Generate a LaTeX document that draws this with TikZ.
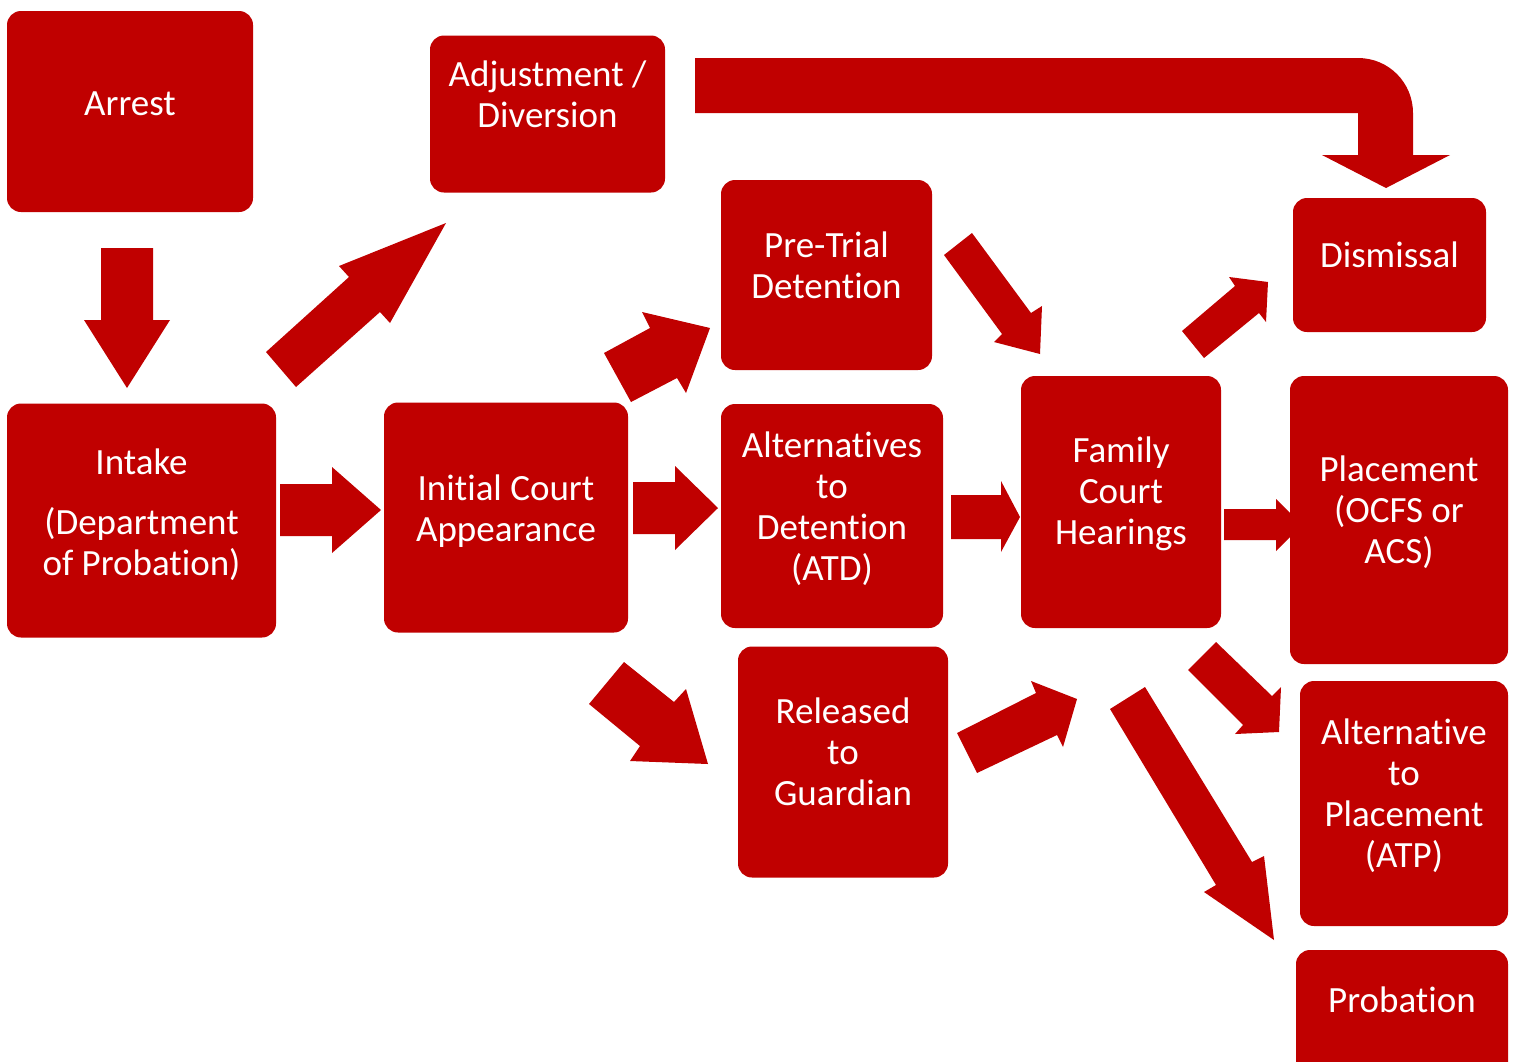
\documentclass[tikz,border=0pt]{standalone}
\usepackage{fontspec}
\setmainfont{Carlito}[Ligatures=NoCommon]
\definecolor{cred}{RGB}{192,0,0}
\begin{document}
\begin{tikzpicture}[x=1pt,y=-1pt,
  box/.style={rectangle, rounded corners=14pt, fill=cred, draw=none, inner sep=0pt},
  lbl/.style={anchor=base, text=white, inner sep=0pt, font=\fontsize{37}{41}\selectfont},
  barrow/.style={fill=cred, draw=none}]
\fill[white] (0,0) rectangle (1515,1061);
\useasboundingbox (0,0) rectangle (1515,1061);
\clip (0,0) rectangle (1515,1061);

% block arrows (drawn first so boxes cover hidden tips)
% arrest -> intake
\fill[barrow] (101,248) -- (153,248) -- (153,320) -- (170,320) -- (127,388) -- (84,320) -- (101,320) -- cycle;
% intake -> adjustment
\fill[barrow] (266,352) -- (349,277) -- (339,266) -- (446,223) -- (390,323) -- (380,312) -- (296,387) -- cycle;
% intake -> initial
\fill[barrow] (280,484) -- (332,484) -- (332,467) -- (381,510) -- (332,553) -- (332,536) -- (280,536) -- cycle;
% adjustment -> dismissal (curved)
\fill[barrow] (695,58) -- (1358,58) .. controls (1389,58) and (1413,83) .. (1413,113)
  -- (1413,155) -- (1450,155) -- (1386,188) -- (1322,155) -- (1358,155) -- (1358,113) -- (695,113) -- cycle;
% initial -> pretrial
\fill[barrow] (604,353) -- (650,328) -- (642,312) -- (710,328) -- (686,393) -- (677,378) -- (631,402) -- cycle;
% initial -> atd
\fill[barrow] (633,482) -- (675,482) -- (675,466) -- (718,508) -- (675,550) -- (675,534) -- (633,534) -- cycle;
% initial -> released
\fill[barrow] (589,704) -- (624,662) -- (674,702) -- (686,689) -- (708,764) -- (630,761) -- (640,746) -- cycle;
% pretrial -> family
\fill[barrow] (944,255) -- (972,233) -- (1031,313) -- (1042,306) -- (1040,354) -- (994,342) -- (1002,334) -- cycle;
% atd -> family
\fill[barrow] (951,495) -- (1001,495) -- (1001,481) -- (1020,517) -- (1001,552) -- (1001,539) -- (951,539) -- cycle;
% released -> family
\fill[barrow] (957,733) -- (1036,693) -- (1031,681) -- (1077,699) -- (1063,747) -- (1057,735) -- (977,773) -- cycle;
% family -> dismissal
\fill[barrow] (1182,331) -- (1235,286) -- (1229,277) -- (1268,282) -- (1266,322) -- (1259,313) -- (1204,358) -- cycle;
% family -> placement (tip hidden under box)
\fill[barrow] (1224,509) -- (1276,509) -- (1276,499) -- (1302,525) -- (1276,551) -- (1276,540) -- (1224,540) -- cycle;
% family -> atp
\fill[barrow] (1188,670) -- (1216,642) -- (1272,696) -- (1281,687) -- (1279,732) -- (1235,734) -- (1243,725) -- cycle;
% family -> probation
\fill[barrow] (1110,709) -- (1145,687) -- (1252,862) -- (1264,856) -- (1274,940) -- (1204,892) -- (1216,885) -- cycle;

% boxes
\node[box, minimum width=246pt, minimum height=201pt] (arrest) at (130,111.5) {};
\node[box, minimum width=235pt, minimum height=157pt] (adjust) at (547.5,114) {};
\node[box, minimum width=269pt, minimum height=234pt] (intake) at (141.5,520.5) {};
\node[box, minimum width=244pt, minimum height=230pt] (initial) at (506,517.5) {};
\node[box, minimum width=211pt, minimum height=190pt] (pretrial) at (826.5,275) {};
\node[box, minimum width=222pt, minimum height=224pt] (atd) at (832,516) {};
\node[box, minimum width=210pt, minimum height=231pt] (released) at (843,762) {};
\node[box, minimum width=200pt, minimum height=252pt] (family) at (1121,502) {};
\node[box, minimum width=193pt, minimum height=134pt] (dismissal) at (1389.5,265) {};
\node[box, minimum width=218pt, minimum height=288pt] (placement) at (1399,520) {};
\node[box, minimum width=208pt, minimum height=245pt] (atp) at (1404,803.5) {};
\node[box, minimum width=212pt, minimum height=150pt] (probation) at (1402,1025) {};

% labels
\node[lbl] (arrest-t) at (arrest.center |- 0,115) {Arrest};
\node[lbl] (adjust-t) at (adjust.center |- 0,86) {\begin{tabular}[t]{@{}c@{}}Adjustment /\\Diversion\end{tabular}};
\node[lbl] (intake-t) at (intake.center |- 0,474) {\begin{tabular}[t]{@{}c@{}}Intake\\[19pt](Department\\of Probation)\end{tabular}};
\node[lbl] (initial-t) at (initial.center |- 0,500) {\begin{tabular}[t]{@{}c@{}}Initial Court\\Appearance\end{tabular}};
\node[lbl] (pretrial-t) at (pretrial.center |- 0,257) {\begin{tabular}[t]{@{}c@{}}Pre-Trial\\Detention\end{tabular}};
\node[lbl] (atd-t) at (atd.center |- 0,457) {\begin{tabular}[t]{@{}c@{}}Alternatives\\to\\Detention\\(ATD)\end{tabular}};
\node[lbl] (released-t) at (released.center |- 0,723) {\begin{tabular}[t]{@{}c@{}}Released\\to\\Guardian\end{tabular}};
\node[lbl] (family-t) at (family.center |- 0,462) {\begin{tabular}[t]{@{}c@{}}Family\\Court\\Hearings\end{tabular}};
\node[lbl] (dismissal-t) at (dismissal.center |- 0,267) {Dismissal};
\node[lbl] (placement-t) at (placement.center |- 0,481) {\begin{tabular}[t]{@{}c@{}}Placement\\(OCFS or\\ACS)\end{tabular}};
\node[lbl] (atp-t) at (atp.center |- 0,744) {\begin{tabular}[t]{@{}c@{}}Alternative\\to\\Placement\\(ATP)\end{tabular}};
\node[lbl] (probation-t) at (probation.center |- 0,1012) {Probation};
\end{tikzpicture}
\end{document}
